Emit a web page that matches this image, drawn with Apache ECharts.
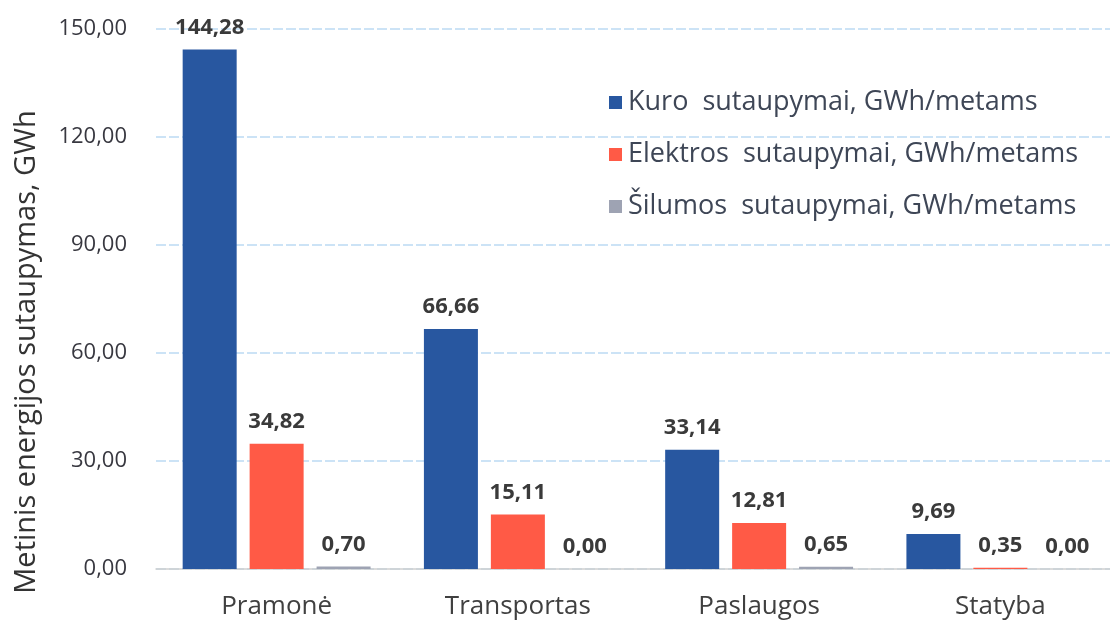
<!DOCTYPE html>
<html><head><meta charset="utf-8">
<script src="https://cdn.jsdelivr.net/npm/echarts@6/dist/echarts.min.js"></script>
<style>html,body{margin:0;padding:0;background:#fff}#c{width:1110px;height:625px}</style>
</head><body><div id="c"></div>
<script>
const categories = ['Pramonė', 'Transportas', 'Paslaugos', 'Statyba'];
const seriesNames = ['Kuro  sutaupymai, GWh/metams', 'Elektros  sutaupymai, GWh/metams', 'Šilumos  sutaupymai, GWh/metams'];
const kuro = [144.28, 66.66, 33.14, 9.69];
const elektros = [34.82, 15.11, 12.81, 0.35];
const silumos = [0.70, 0.00, 0.65, 0.00];
const colors = ['#2857a0', '#ff5a46', '#9ea3b3'];
const yAxisName = 'Metinis energijos sutaupymas, GWh';

const fmt = v => v.toFixed(2).replace('.', ',');
const font = '"Open Sans", "Noto Sans", sans-serif';
const chart = echarts.init(document.getElementById('c'), null, {renderer: 'canvas'});
const mk = (name, data, color) => ({
  name, type: 'bar', data, barWidth: 54, barGap: '24%',
  itemStyle: {color},
  label: {show: true, position: 'top', distance: 11, formatter: p => fmt(p.value),
    color: '#3a3a3a', fontFamily: font, fontWeight: 'bold', fontSize: 22}
});
chart.setOption({
  animation: false,
  textStyle: {fontFamily: font},
  grid: {left: 156, width: 965, top: 29, bottom: 56, containLabel: false, outerBoundsMode: 'none'},
  legend: {
    orient: 'vertical', left: 604, top: 84, itemGap: 25, itemWidth: 13, itemHeight: 13,
    icon: 'rect',
    textStyle: {fontSize: 27, color: '#3e4656', fontFamily: font, padding: [0, 0, 0, 1]},
    data: seriesNames
  },
  xAxis: {
    type: 'category', data: categories,
    axisLine: {lineStyle: {color: '#d0d0d0', width: 1.5}},
    axisTick: {show: false},
    axisLabel: {fontSize: 26, color: '#404040', margin: 25, fontFamily: font}
  },
  yAxis: {
    type: 'value', min: 0, max: 150, interval: 30,
    name: yAxisName, nameLocation: 'middle', nameGap: 115, nameRotate: 90,
    nameTextStyle: {fontSize: 29, color: '#333', fontFamily: font, padding: [0, 106, 0, 0]},
    axisLine: {show: false}, axisTick: {show: false},
    axisLabel: {fontSize: 22, color: '#383840', margin: 29, formatter: v => fmt(v), fontFamily: font},
    splitLine: {lineStyle: {color: '#bcdaf3', width: 1.5, type: [10, 3]}}
  },
  series: [mk(seriesNames[0], kuro, colors[0]), mk(seriesNames[1], elektros, colors[1]), mk(seriesNames[2], silumos, colors[2])]
});
</script></body></html>
